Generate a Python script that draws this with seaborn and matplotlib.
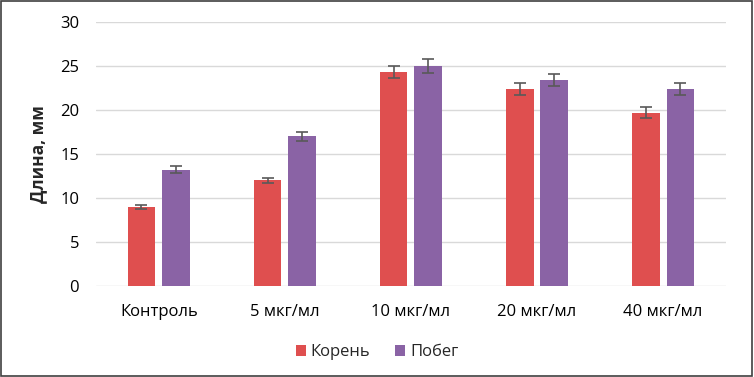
import seaborn as sns
import pandas as pd
import matplotlib.pyplot as plt
from matplotlib.patches import Rectangle

categories = ["Контроль", "5 мкг/мл", "10 мкг/мл", "20 мкг/мл", "40 мкг/мл"]
root = [9.0, 12.0, 24.3, 22.4, 19.7]
root_err = [0.25, 0.3, 0.7, 0.7, 0.6]
shoot = [13.2, 17.0, 25.0, 23.4, 22.4]
shoot_err = [0.4, 0.5, 0.75, 0.7, 0.7]
series = ["Корень", "Побег"]
colors = ["#DF4F4F", "#8A63A5"]

df = pd.DataFrame({
    "cat": categories * 2,
    "val": root + shoot,
    "series": [series[0]] * 5 + [series[1]] * 5,
})
errs = [root_err, shoot_err]

sns.set_style("white")
plt.rcParams["font.family"] = ["Open Sans", "DejaVu Sans"]

fig = plt.figure(figsize=(7.54, 3.77), dpi=100)
ax = fig.add_axes([0.127, 0.241, 0.836, 0.701])
sns.barplot(data=df, x="cat", y="val", hue="series", palette=colors,
            width=0.55, gap=0.2, ax=ax, errorbar=None, saturation=1,
            edgecolor="none", zorder=2)

for cont, e in zip(ax.containers, errs):
    xs = [b.get_x() + b.get_width() / 2 for b in cont]
    ys = [b.get_height() for b in cont]
    ax.errorbar(xs, ys, yerr=e, fmt="none", ecolor="#595959",
                elinewidth=1.2, capsize=4, capthick=1.2, zorder=3)

ax.set_ylim(0, 30)
ax.set_xlim(-0.5, 4.5)
ax.set_yticks(range(0, 31, 5))
ax.yaxis.grid(True, color="#D9D9D9", linewidth=1)
ax.set_axisbelow(True)
sns.despine(ax=ax, left=True, bottom=True)
ax.tick_params(axis="both", length=0, labelsize=12, colors="#000000")
ax.tick_params(axis="x", pad=13)
ax.tick_params(axis="y", pad=12)
ax.set_xlabel("")
ax.set_ylabel("Длина, мм", fontsize=12.5, fontweight="bold", labelpad=9)

ax.legend(loc="center", bbox_to_anchor=(0.5, 0.066), bbox_transform=fig.transFigure,
          ncol=2, frameon=False, fontsize=12, handlelength=0.6, handleheight=0.6,
          handletextpad=0.3, columnspacing=1.5)

fig.patches.append(Rectangle((0.001, 0.002), 0.997, 0.996, transform=fig.transFigure,
                             fill=False, edgecolor="#404040", linewidth=1.2))

fig.savefig("out.png", dpi=100)
